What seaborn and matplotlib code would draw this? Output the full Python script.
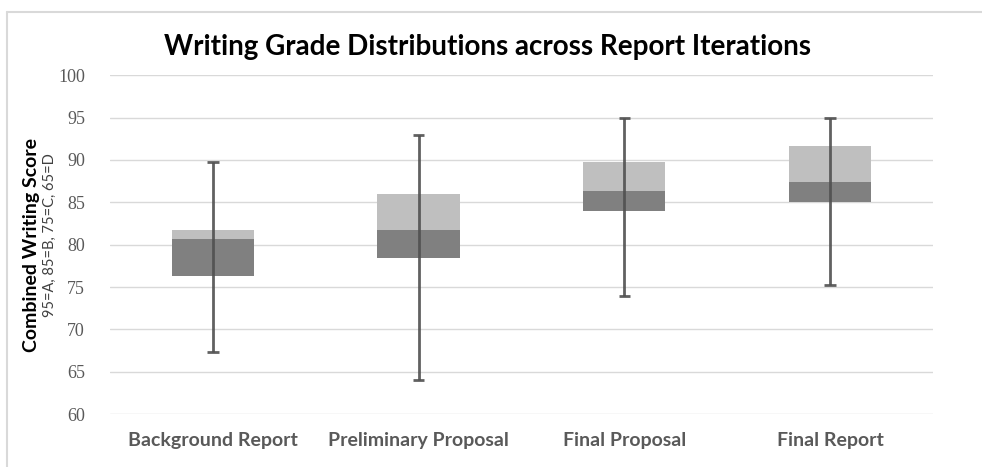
import numpy as np
import pandas as pd
import matplotlib
matplotlib.use("Agg")
import matplotlib.pyplot as plt
import seaborn as sns

## dados ##
categorias = ["Background Report", "Preliminary Proposal", "Final Proposal", "Final Report"]
minimo = [67.3, 64.0, 74.0, 75.3]
q1 = [76.3, 78.4, 84.0, 85.0]
mediana = [80.7, 81.7, 86.3, 87.4]
q3 = [81.7, 86.0, 89.7, 91.6]
maximo = [89.7, 93.0, 95.0, 95.0]

df = pd.DataFrame({"cat": categorias, "q1": q1, "med": mediana, "q3": q3})
df["inferior"] = df["med"] - df["q1"]
df["superior"] = df["q3"] - df["med"]

sns.set_theme(style="white")
plt.rcParams["font.family"] = ["Lato", "DejaVu Sans"]

fig = plt.figure(figsize=(9.82, 4.67), dpi=100)
ax = fig.add_axes([0.112, 0.113, 0.838, 0.726])

### borda do grafico (estilo excel, so topo e esquerda) ###
fig.add_artist(plt.Line2D([0.007, 1.0], [0.974, 0.974], color="#d9d9d9", linewidth=1.5))
fig.add_artist(plt.Line2D([0.007, 0.007], [0.0, 0.974], color="#d9d9d9", linewidth=1.5))

### caixas empilhadas ###
sns.barplot(data=df, x="cat", y="inferior", bottom=df["q1"], color="#808080",
            saturation=1, width=0.4, linewidth=0, ax=ax, zorder=2)
sns.barplot(data=df, x="cat", y="superior", bottom=df["med"], color="#bfbfbf",
            saturation=1, width=0.4, linewidth=0, ax=ax, zorder=2)

### bigodes ###
pos = np.arange(len(categorias))
ax.vlines(pos, minimo, maximo, color="#505050", linewidth=2, alpha=0.9, zorder=3)
ax.hlines(minimo, pos - 0.028, pos + 0.028, color="#505050", linewidth=2, alpha=0.9, zorder=3)
ax.hlines(maximo, pos - 0.028, pos + 0.028, color="#505050", linewidth=2, alpha=0.9, zorder=3)

ax.set_ylim(60, 100)
ax.set_xlim(-0.5, 3.5)
ax.set_yticks(range(60, 101, 5))
ax.yaxis.grid(True, color="#d9d9d9", linewidth=1)
ax.set_axisbelow(True)
for s in ax.spines.values():
    s.set_visible(False)
ax.tick_params(axis="both", length=0)
ax.tick_params(axis="y", pad=18)
ax.tick_params(axis="x", pad=13)
for t in ax.get_yticklabels():
    t.set_fontfamily("Liberation Serif")
    t.set_fontsize(13)
    t.set_color("#595959")
for t in ax.get_xticklabels():
    t.set_fontsize(14)
    t.set_fontweight("bold")
    t.set_color("#595959")
ax.set_xlabel("")
ax.set_ylabel("")

fig.text(0.496, 0.9, "Writing Grade Distributions across Report Iterations",
         ha="center", va="center", fontsize=20, fontweight="bold", color="black")
fig.text(0.032, 0.475, "Combined Writing Score", rotation=90, ha="center", va="center",
         fontsize=14, fontweight="bold", color="black")
fig.text(0.051, 0.497, "95=A, 85=B, 75=C, 65=D", rotation=90, ha="center", va="center",
         fontsize=10.5, color="#404040")

plt.savefig("out.png", dpi=100)
